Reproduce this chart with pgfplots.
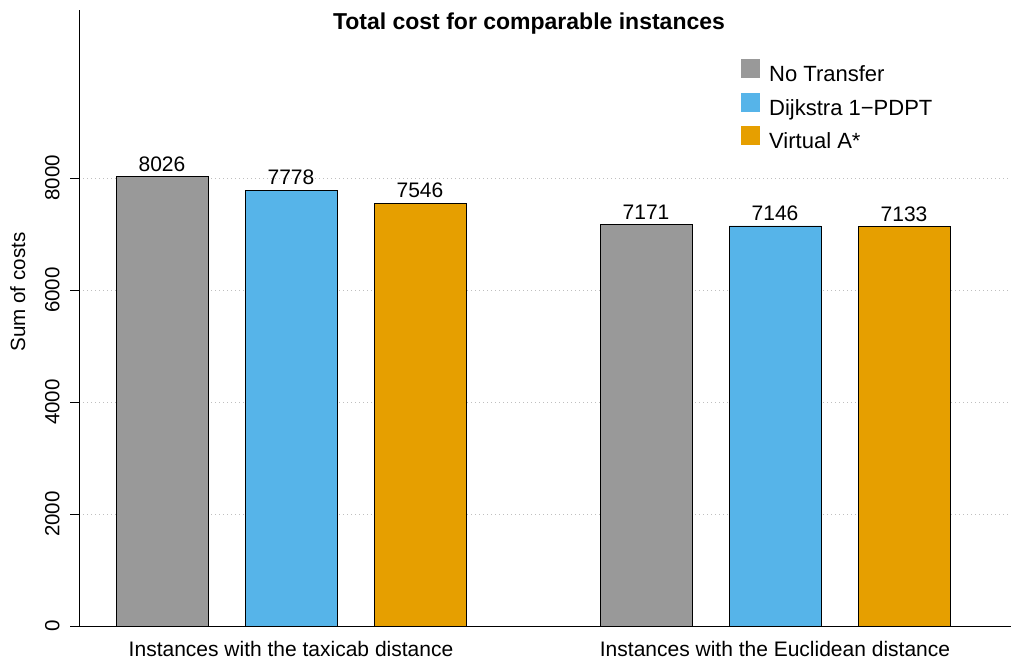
\documentclass[border=0pt]{standalone}
\usepackage{pgfplots}
\pgfplotsset{compat=1.18}
\usepackage{fontspec}
\setmainfont{Liberation Sans}
\definecolor{cgray}{HTML}{999999}
\definecolor{cblue}{HTML}{56B4E9}
\definecolor{corange}{HTML}{E69F00}
\pgfplotsset{sqlegend/.style={legend image code/.code={\fill[##1,draw=none] (0pt,-1pt) rectangle (19pt,18pt);}}}
\begin{document}
\begin{tikzpicture}
\useasboundingbox (0,0) rectangle (1011pt,660pt);
\begin{axis}[
  at={(79pt,34pt)}, anchor=south west, scale only axis,
  width=932pt, height=616pt,
  xmin=79, xmax=1011, ymin=0, ymax=11000,
  axis x line*=bottom, axis y line*=left,
  axis line style={-, line width=0.8pt, black},
  ytick={0,2000,4000,6000,8000},
  scaled y ticks=false,
  xtick={291,775},
  xticklabels={Instances with the taxicab distance, Instances with the Euclidean distance},
  x tick style={draw=none},
  y tick style={black, line width=0.8pt},
  tick align=outside, major tick length=9pt,
  /pgf/number format/1000 sep={},
  /pgf/number format/assume math mode=true,
  yticklabel shift=7pt,
  yticklabel style={rotate=90, anchor=south, font=\fontsize{20.5}{24}\selectfont},
  xticklabel style={font=\fontsize{21}{25}\selectfont, anchor=base, yshift=-22pt},
  ymajorgrids,
  grid style={black!25, dash pattern=on 1pt off 3pt, line width=0.8pt},
  ybar, bar width=92,
  nodes near coords,
  nodes near coords style={font=\fontsize{21}{25}\selectfont, anchor=south, inner sep=0pt, yshift=5pt, black},
  title={Total cost for comparable instances},
  every axis title shift=0pt,
  title style={at={(axis description cs:0.4828,0.968)}, anchor=base, inner sep=0pt, font=\bfseries\fontsize{23}{27}\selectfont},
  ylabel={Sum of costs},
  ylabel style={at={(axis description cs:-0.0579,0.542)}, anchor=base, inner sep=0pt, font=\fontsize{20.6}{24}\selectfont},
  legend style={at={(axis cs:741,10125)}, anchor=north west, draw=none, fill=none,
    inner sep=0pt, row sep=6pt, font=\fontsize{22}{26}\selectfont,
    nodes={inner sep=0pt, text height=14pt, text depth=5pt},
    /tikz/every odd column/.append style={column sep=9pt}},
  legend cell align=left,
]
\addplot[fill=cgray, draw=black, line width=0.6pt, bar shift=-129, sqlegend]
  coordinates {(291,8026) (775,7171)};
\addplot[fill=cblue, draw=black, line width=0.6pt, bar shift=0, sqlegend]
  coordinates {(291,7778) (775,7146)};
\addplot[fill=corange, draw=black, line width=0.6pt, bar shift=129, sqlegend]
  coordinates {(291,7546) (775,7133)};
\legend{No Transfer, Dijkstra 1\textminus PDPT, Virtual A*}
\end{axis}
\end{tikzpicture}
\end{document}
